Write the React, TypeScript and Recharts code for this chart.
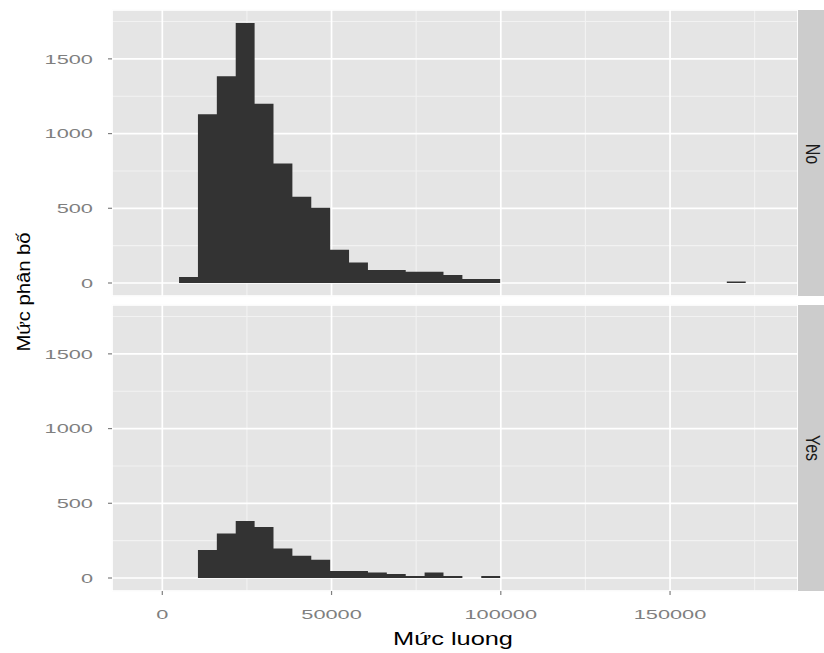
import React from 'react';
import { ComposedChart, Area, XAxis, YAxis, CartesianGrid } from 'recharts';

// histogram bins for "Mức luong": left edges, the last value closes the final bin
const binEdges = [
  4950, 10530, 16110, 21690, 27270, 32850, 38430, 44010, 49590, 55170, 60750, 66330, 71910, 77490, 83070,
  88650, 94230, 99810, 105390, 110970, 116550, 122130, 127710, 133290, 138870, 144450, 150030, 155610,
  161190, 166770, 172350,
];

// counts per bin, facet "No"
const countsNo = [
  40, 1129, 1384, 1740, 1200, 800, 577, 504, 222, 138, 87, 87, 75, 75, 53, 27, 27,
  0, 0, 0, 0, 0, 0, 0, 0, 0, 0, 0, 0, 10,
];

// counts per bin, facet "Yes"
const countsYes = [
  0, 187, 298, 382, 342, 198, 149, 122, 47, 47, 36, 27, 13, 36, 13, 0, 13,
  0, 0, 0, 0, 0, 0, 0, 0, 0, 0, 0, 0, 0,
];

const facets = ['No', 'Yes'];
const xMajorTicks = [0, 50000, 100000, 150000];
const xMinorTicks = [25000, 75000, 125000, 175000];
const yMajorTicks = [0, 500, 1000, 1500];
const yMinorTicks = [250, 750, 1250, 1750];

const X_DOMAIN: [number, number] = [-14860, 187800];
const Y_DOMAIN: [number, number] = [-87, 1827];

const FONT = "'Liberation Sans', Arial, sans-serif";
const AXIS_GREY = '#7f7f7f';
const DIGIT_W = 12.1;

const TickText = (props: any) => {
  const { x, y, payload, anchor, dy } = props;
  const label = String(payload.value);
  return (
    <text
      x={x}
      y={y}
      dy={dy}
      textAnchor={anchor}
      fontSize={13.5}
      fontFamily={FONT}
      fill={AXIS_GREY}
      textLength={label.length * DIGIT_W}
      lengthAdjust="spacingAndGlyphs"
    >
      {label}
    </text>
  );
};

interface PanelProps {
  counts: number[];
  height: number;
  top: number;
  bottom: number;
  showX: boolean;
}

function Panel({ counts, height, top, bottom, showX }: PanelProps) {
  const data = binEdges.map((x, i) => ({ x, count: counts[i] ?? 0 }));

  return (
    <div style={{ position: 'absolute', left: 0, top: 0 }}>
      <ComposedChart width={824} height={height} data={data} margin={{ top, right: 26, bottom, left: 0 }}>
        <XAxis xAxisId="minor" type="number" dataKey="x" domain={X_DOMAIN} ticks={xMinorTicks} allowDataOverflow hide />
        <XAxis
          xAxisId="major"
          type="number"
          dataKey="x"
          domain={X_DOMAIN}
          ticks={xMajorTicks}
          allowDataOverflow
          hide={!showX}
          height={30}
          axisLine={false}
          tickSize={4}
          tickMargin={14}
          tickLine={{ stroke: AXIS_GREY, strokeWidth: 1.2 }}
          tick={(p: any) => <TickText {...p} anchor="middle" dy={9.7} />}
        />
        <YAxis yAxisId="minor" type="number" domain={Y_DOMAIN} ticks={yMinorTicks} allowDataOverflow hide />
        <YAxis
          yAxisId="major"
          type="number"
          domain={Y_DOMAIN}
          ticks={yMajorTicks}
          allowDataOverflow
          width={112}
          axisLine={false}
          tickSize={4}
          tickMargin={15}
          tickLine={{ stroke: AXIS_GREY, strokeWidth: 1.2 }}
          tick={(p: any) => <TickText {...p} anchor="end" dy={4.8} />}
        />
        <CartesianGrid xAxisId="minor" yAxisId="minor" stroke="#f2f2f2" strokeWidth={1.1} fill="#e5e5e5" fillOpacity={1} />
        <CartesianGrid xAxisId="major" yAxisId="major" stroke="#ffffff" strokeWidth={1.7} />
        <Area
          xAxisId="major"
          yAxisId="major"
          type="stepAfter"
          dataKey="count"
          stroke="none"
          fill="#333333"
          fillOpacity={1}
          isAnimationActive={false}
        />
      </ComposedChart>
    </div>
  );
}

export default function App() {
  return (
    <div style={{ position: 'absolute', left: 0, top: 0, width: 824, height: 653, background: '#ffffff' }}>
      <Panel counts={countsNo} height={300} top={10} bottom={4} showX={false} />
      <Panel counts={countsYes} height={653} top={305} bottom={32} showX />
      <svg width={824} height={653} style={{ position: 'absolute', left: 0, top: 0, pointerEvents: 'none' }}>
        {/* facet strips */}
        <rect x={798} y={10} width={26} height={286} fill="#cccccc" />
        <rect x={798} y={305} width={26} height={286} fill="#cccccc" />
        <text
          transform="translate(805.5,154) rotate(90) scale(1,1.22)"
          textAnchor="middle"
          fontSize={16}
          fontFamily={FONT}
          fill="#1a1a1a"
        >
          {facets[0]}
        </text>
        <text
          transform="translate(805.5,448) rotate(90) scale(1,1.22)"
          textAnchor="middle"
          fontSize={16}
          fontFamily={FONT}
          fill="#1a1a1a"
        >
          {facets[1]}
        </text>
        {/* axis titles */}
        <text
          x={453}
          y={645}
          textAnchor="middle"
          fontSize={19}
          fontFamily={FONT}
          fill="#000000"
          textLength={120}
          lengthAdjust="spacingAndGlyphs"
        >
          Mức luong
        </text>
        <text
          transform="translate(30,292) rotate(-90)"
          textAnchor="middle"
          fontSize={19}
          fontFamily={FONT}
          fill="#000000"
          textLength={119}
          lengthAdjust="spacingAndGlyphs"
        >
          Mức phân bố
        </text>
      </svg>
    </div>
  );
}
